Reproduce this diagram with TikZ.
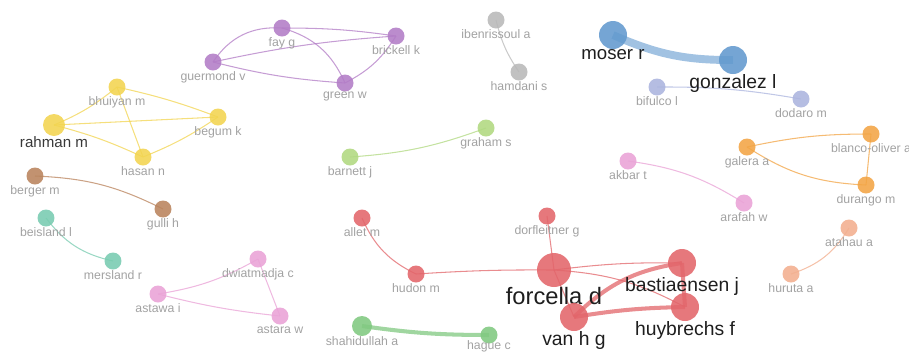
\documentclass[tikz,border=0pt]{standalone}
\usepackage{fontspec}
\setmainfont{Liberation Sans}
\pgfdeclarelayer{bg}
\pgfsetlayers{bg,main}
\definecolor{cred}{HTML}{E2656A}
\definecolor{cblue}{HTML}{6299CE}
\definecolor{cpurple}{HTML}{B27CC6}
\definecolor{cyellow}{HTML}{F2D450}
\definecolor{cgrey}{HTML}{B8B8B8}
\definecolor{clavender}{HTML}{ABB4DE}
\definecolor{clime}{HTML}{B0D880}
\definecolor{cteal}{HTML}{78CBB0}
\definecolor{cbrown}{HTML}{B9835C}
\definecolor{corange}{HTML}{F2A444}
\definecolor{cpink}{HTML}{E9A2D6}
\definecolor{csalmon}{HTML}{F2AE8E}
\definecolor{cgreen}{HTML}{80C880}
\definecolor{labgrey}{HTML}{A2A2A2}
\definecolor{labdark}{HTML}{1E1E1E}
\begin{document}
\begin{tikzpicture}[x=0.02cm,y=-0.02cm,
  au/.style={circle, fill=#1, fill opacity=0.88, inner sep=0, minimum size=0.34cm},
  lab/.style={text=labgrey, font=\fontsize{7}{8}\selectfont, inner sep=0, label distance=0pt},
  biglab/.style={text=labdark, font=\fontsize{11}{12}\selectfont, inner sep=0},
  ed/.style={draw=#1, draw opacity=0.75, line width=0.6pt}]
\useasboundingbox (0,0) rectangle (909,353);

% purple group
\node[au=cpurple] (fay) at (282,28) [label={[lab]below:fay g}] {};
\node[au=cpurple] (brickell) at (396,36) [label={[lab]below:brickell k}] {};
\node[au=cpurple] (guermond) at (213,62) [label={[lab]below:guermond v}] {};
\node[au=cpurple] (green) at (345,83) [label={[lab]below:green w}] {};
% grey
\node[au=cgrey] (ibenrissoul) at (496,20) [label={[lab]below:ibenrissoul a}] {};
\node[au=cgrey] (hamdani) at (519,72) [label={[lab]below:hamdani s}] {};
% blue
\node[au=cblue, minimum size=0.56cm] (moser) at (613,35) [label={[biglab, font=\fontsize{10.6}{12}\selectfont]below:moser r}] {};
\node[au=cblue, minimum size=0.56cm] (gonzalez) at (733,60) [label={[biglab]below:gonzalez l}] {};
\node[au=clavender] (bifulco) at (657,87) [label={[lab]below:bifulco l}] {};
\node[au=clavender] (dodaro) at (801,99) [label={[lab]below:dodaro m}] {};
% yellow
\node[au=cyellow] (bhuiyan) at (117,87) [label={[lab]below:bhuiyan m}] {};
\node[au=cyellow] (begum) at (218,117) [label={[lab]below:begum k}] {};
\node[au=cyellow, minimum size=0.44cm] (rahman) at (54,125) [label={[biglab, text=black!78, font=\fontsize{8.6}{10}\selectfont]below:rahman m}] {};
\node[au=cyellow] (hasan) at (143,157) [label={[lab]below:hasan n}] {};
% lime
\node[au=clime] (graham) at (486,128) [label={[lab]below:graham s}] {};
\node[au=clime] (barnett) at (350,157) [label={[lab]below:barnett j}] {};
% pink / orange (right)
\node[au=cpink] (akbar) at (628,161) [label={[lab]below:akbar t}] {};
\node[au=cpink] (arafah) at (744,203) [label={[lab]below:arafah w}] {};
\node[au=corange] (galera) at (747,147) [label={[lab]below:galera a}] {};
\node[au=corange] (blanco) at (871,134) [label={[lab]below:blanco-oliver a}] {};
\node[au=corange] (durango) at (866,185) [label={[lab]below:durango m}] {};
% brown / teal
\node[au=cbrown] (berger) at (35,176) [label={[lab]below:berger m}] {};
\node[au=cbrown] (gulli) at (163,209) [label={[lab]below:gulli h}] {};
\node[au=cteal] (beisland) at (46,218) [label={[lab]below:beisland l}] {};
\node[au=cteal] (mersland) at (113,261) [label={[lab]below:mersland r}] {};
% pink (left)
\node[au=cpink] (dwiatmadja) at (258,259) [label={[lab]below:dwiatmadja c}] {};
\node[au=cpink] (astawa) at (158,294) [label={[lab]below:astawa i}] {};
\node[au=cpink] (astara) at (280,316) [label={[lab]below:astara w}] {};
% red group
\node[au=cred] (allet) at (362,218) [label={[lab]below:allet m}] {};
\node[au=cred] (dorfleitner) at (547,216) [label={[lab]below:dorfleitner g}] {};
\node[au=cred] (hudon) at (416,274) [label={[lab]below:hudon m}] {};
\node[au=cred, minimum size=0.68cm] (forcella) at (554,270) [label={[biglab, font=\fontsize{13.5}{15}\selectfont]below:forcella d}] {};
\node[au=cred, minimum size=0.56cm] (vanhg) at (574,317) [label={[biglab]below:van h g}] {};
\node[au=cred, minimum size=0.56cm] (bastiaensen) at (682,263) [label={[biglab]below:bastiaensen j}] {};
\node[au=cred, minimum size=0.56cm] (huybrechs) at (685,307) [label={[biglab]below:huybrechs f}] {};
% green / salmon
\node[au=cgreen, minimum size=0.4cm] (shahidullah) at (362,326) [label={[lab]below:shahidullah a}] {};
\node[au=cgreen] (hague) at (489,335) [label={[lab, label distance=-2pt]below:hague c}] {};
\node[au=csalmon] (atahau) at (849,228) [label={[lab]below:atahau a}] {};
\node[au=csalmon] (huruta) at (791,274) [label={[lab]below:huruta a}] {};

\begin{pgfonlayer}{bg}
 \draw[ed=cpurple] (guermond.center) to[bend left=30] (fay.center);
 \draw[ed=cpurple] (fay.center) to[bend left=25] (green.center);
 \draw[ed=cpurple] (fay.center) to[bend left=4] (brickell.center);
 \draw[ed=cpurple] (brickell.center) to[bend right=4] (guermond.center);
 \draw[ed=cpurple] (guermond.center) to[bend right=5] (green.center);
 \draw[ed=cpurple] (brickell.center) to[bend left=15] (green.center);
 \draw[ed=cgrey] (ibenrissoul.center) to[bend right=10] (hamdani.center);
 \draw[ed=cblue, line width=4.5pt, draw opacity=0.6] (moser.center) to[bend right=12] (gonzalez.center);
 \draw[ed=clavender] (bifulco.center) to[bend left=5] (dodaro.center);
 \draw[ed=cyellow] (rahman.center) to[bend right=8] (bhuiyan.center);
 \draw[ed=cyellow] (rahman.center) -- (begum.center);
 \draw[ed=cyellow] (rahman.center) to[bend left=5] (hasan.center);
 \draw[ed=cyellow] (bhuiyan.center) to[bend left=4] (begum.center);
 \draw[ed=cyellow] (bhuiyan.center) -- (hasan.center);
 \draw[ed=cyellow] (hasan.center) to[bend right=6] (begum.center);
 \draw[ed=clime] (barnett.center) to[bend right=8] (graham.center);
 \draw[ed=cpink] (akbar.center) to[bend left=12] (arafah.center);
 \draw[ed=corange] (galera.center) to[bend left=6] (blanco.center);
 \draw[ed=corange] (galera.center) to[bend right=15] (durango.center);
 \draw[ed=corange] (blanco.center) -- (durango.center);
 \draw[ed=cbrown] (berger.center) to[bend left=12] (gulli.center);
 \draw[ed=cteal] (beisland.center) to[bend right=20] (mersland.center);
 \draw[ed=cpink] (astawa.center) to[bend right=10] (dwiatmadja.center);
 \draw[ed=cpink] (astawa.center) to[bend right=4] (astara.center);
 \draw[ed=cpink] (dwiatmadja.center) -- (astara.center);
 \draw[ed=cred] (allet.center) to[bend right=20] (hudon.center);
 \draw[ed=cred] (hudon.center) to[bend left=2] (forcella.center);
 \draw[ed=cred] (dorfleitner.center) -- (forcella.center);
 \draw[ed=cred] (forcella.center) -- (vanhg.center);
 \draw[ed=cred] (forcella.center) to[bend left=4] (bastiaensen.center);
 \draw[ed=cred] (forcella.center) to[bend left=12] (huybrechs.center);
 \draw[ed=cred, line width=2.3pt] (vanhg.center) to[bend left=18] (bastiaensen.center);
 \draw[ed=cred, line width=2.3pt] (vanhg.center) to[bend left=4] (huybrechs.center);
 \draw[ed=cred, line width=2.3pt] (bastiaensen.center) -- (huybrechs.center);
 \draw[ed=cgreen, line width=2.3pt] (shahidullah.center) to[bend right=4] (hague.center);
 \draw[ed=csalmon] (atahau.center) to[bend left=20] (huruta.center);
\end{pgfonlayer}
\end{tikzpicture}
\end{document}
